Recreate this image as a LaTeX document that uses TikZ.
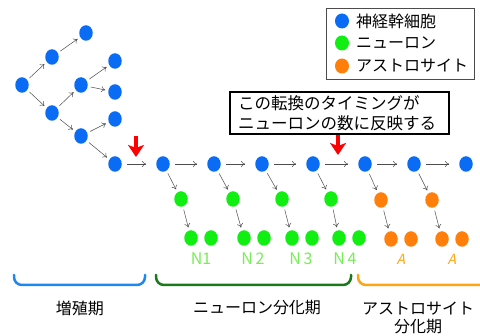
\documentclass[tikz,border=0pt]{standalone}
\usepackage{fontspec}
\setmainfont{Noto Sans CJK JP}
\newfontfamily\slantjp[FakeSlant=0.22]{Noto Sans CJK JP}
\usetikzlibrary{arrows.meta,shapes.geometric}
\definecolor{nsc}{HTML}{0A6CF5}
\definecolor{neu}{HTML}{11EE11}
\definecolor{ast}{HTML}{FF7F0A}
\definecolor{nlab}{HTML}{77EE55}
\definecolor{brb}{HTML}{1E88F0}
\definecolor{brg}{HTML}{1A7A1A}
\definecolor{bro}{HTML}{FFA510}
\begin{document}
\begin{tikzpicture}[x=1pt,y=-1pt,
  cell/.style={ellipse,minimum width=13.5pt,minimum height=15.5pt,inner sep=0pt},
  nscell/.style={cell,fill=nsc},
  ncell/.style={cell,fill=neu},
  acell/.style={cell,fill=ast},
  arr/.style={-{To[length=4pt,width=6pt]},draw=black!70,line width=0.5pt,shorten <=3pt,shorten >=3pt},
  harr/.style={-{To[length=4pt,width=6pt]},draw=black!70,line width=0.5pt,shorten <=5pt,shorten >=10pt},
  redarr/.style={draw=red,line width=3.5pt,-{Stealth[length=12pt,width=16pt,inset=3pt]}},
  lab/.style={font=\fontsize{16}{18}\selectfont,inner sep=0pt},
  nlabel/.style={lab,text=nlab},
  alabel/.style={lab,text=bro,font=\fontsize{14}{16}\slantjp},
  brk/.style={line width=2.5pt,rounded corners=8pt,line cap=round}
]
\useasboundingbox (0,0) rectangle (480,336);
\fill[white] (0,0) rectangle (480,336);
% tree
\node[nscell] (r) at (22,85) {};
\node[nscell] (a1) at (52,57) {};
\node[nscell] (a2) at (86,33) {};
\node[nscell] (b1) at (52,113) {};
\node[nscell] (b2) at (81,85) {};
\node[nscell] (b3) at (115,61) {};
\node[nscell] (b4) at (115,92) {};
\node[nscell] (c1) at (81,136) {};
\node[nscell] (c2) at (115,119) {};
\node[nscell] (m0) at (115,164) {};
\draw[arr] (r) -- (a1);
\draw[arr] (a1) -- (a2);
\draw[arr] (r) -- (b1);
\draw[arr] (b1) -- (b2);
\draw[arr] (b2) -- (b3);
\draw[arr] (b2) -- (b4);
\draw[arr] (b1) -- (c1);
\draw[arr] (c1) -- (c2);
\draw[arr] (c1) -- (m0);
% main row
\node[nscell] (m1) at (163,164) {};
\node[nscell] (m2) at (214,164) {};
\node[nscell] (m3) at (262,164) {};
\node[nscell] (m4) at (313,164) {};
\node[nscell] (m5) at (365,164) {};
\node[nscell] (m6) at (414,164) {};
\node[nscell] (m7) at (466,164) {};
\foreach \a/\b in {m0/m1,m1/m2,m2/m3,m3/m4,m4/m5,m5/m6,m6/m7}
  \draw[harr] (\a) -- (\b);
% neurons
\node[ncell] (g1) at (181,199) {};
\node[ncell] (g2) at (233,199) {};
\node[ncell] (g3) at (282,199) {};
\node[ncell] (g4) at (331,199) {};
\node[ncell] (g1a) at (191,238) {};
\node[ncell] (g1b) at (211,238) {};
\node[ncell] (g2a) at (244,238) {};
\node[ncell] (g2b) at (264,238) {};
\node[ncell] (g3a) at (292,238) {};
\node[ncell] (g3b) at (312,238) {};
\node[ncell] (g4a) at (339,238) {};
\node[ncell] (g4b) at (359,238) {};
\foreach \i in {1,2,3,4}{
  \draw[arr] (m\i) -- (g\i);
  \draw[arr] (g\i) -- (g\i a);
}
% astrocytes
\node[acell] (o1) at (381,200) {};
\node[acell] (o2) at (432,200) {};
\node[acell] (o1a) at (391,239) {};
\node[acell] (o1b) at (411,239) {};
\node[acell] (o2a) at (442,239) {};
\node[acell] (o2b) at (462,239) {};
\draw[arr] (m5) -- (o1);
\draw[arr] (m6) -- (o2);
\draw[arr] (o1) -- (o1a);
\draw[arr] (o2) -- (o2a);
% red arrows
\coordinate (r1s) at (136,136);
\coordinate (r1e) at (136,157);
\coordinate (r2s) at (338,134);
\coordinate (r2e) at (338,155);
\draw[redarr] (r1s) -- (r1e);
\draw[redarr] (r2s) -- (r2e);
% labels under cells
\node[nlabel] (n1) at (201,259) {N1};
\node[nlabel] (n2) at (253,259) {N\,2};
\node[nlabel] (n3) at (301,259) {N\,3};
\node[nlabel] (n4) at (345,259) {N\,4};
\node[alabel] (l1) at (401,259) {A};
\node[alabel] (l2) at (452,259) {A};
% brackets
\draw[brb,brk] (14,275) -- (14,285) -- (145,285) -- (145,275);
\draw[brg,brk] (156,275) -- (156,285) -- (351,285) -- (351,275);
\draw[bro,brk] (358,275) -- (358,285) -- (482,285);
\node[lab] (p1) at (80,308) {増殖期};
\node[lab] (p2) at (257,308) {ニューロン分化期};
\node[lab,align=center] (p3) at (418,318) {アストロサイト\\分化期};
% text box
\node[lab,draw=black,line width=1.8pt,align=left,minimum width=219pt,minimum height=42pt,inner xsep=8pt,text width=203pt,font=\fontsize{16.5}{20}\selectfont] (tb) at (339.5,113) {この転換のタイミングが\\ニューロンの数に反映する};
% legend
\draw[draw=black!70,line width=0.7pt] (326,8) rectangle (474,79);
\node[nscell,minimum width=14pt,minimum height=15pt] (k1) at (342,21) {};
\node[ncell,minimum width=14pt,minimum height=15pt] (k2) at (342,43) {};
\node[acell,minimum width=14pt,minimum height=15pt] (k3) at (342,66) {};
\node[lab,anchor=west] (t1) at (356,21) {神経幹細胞};
\node[lab,anchor=west] (t2) at (356,43) {ニューロン};
\node[lab,anchor=west] (t3) at (356,66) {アストロサイト};
\end{tikzpicture}
\end{document}
